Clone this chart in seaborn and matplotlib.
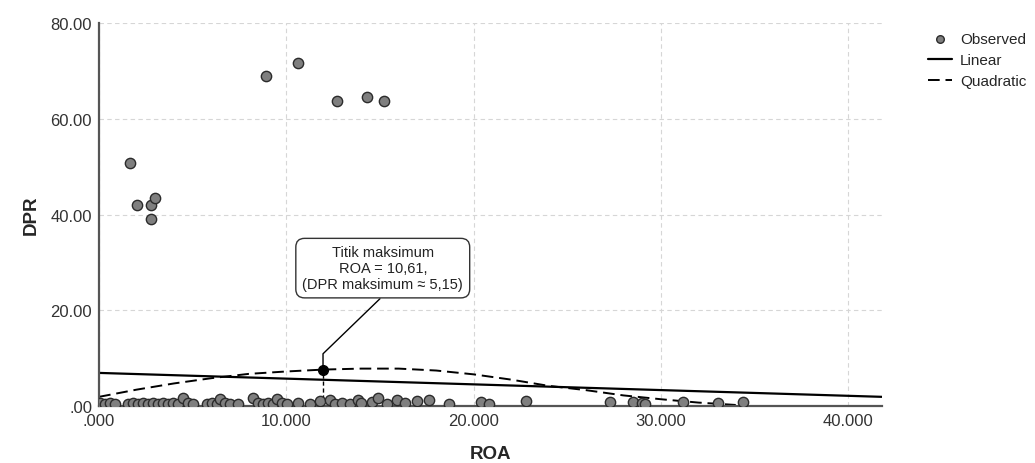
import matplotlib
matplotlib.use("Agg")
import matplotlib.pyplot as plt
import seaborn as sns
import pandas as pd

sns.set_style("whitegrid")
plt.rcParams['font.family'] = ['Liberation Sans', 'DejaVu Sans']

# --- Data ---
obs_roa = [1.65, 2.0, 2.76, 3.0, 2.8, 8.9, 10.6, 12.7, 14.3, 15.2,
           0.05, 0.32, 0.59, 0.85, 1.57, 1.83, 2.1, 2.37, 2.63, 2.9,
           3.17, 3.43, 3.7, 3.97, 4.23, 4.5, 4.77, 5.03, 5.75, 6.02,
           6.28, 6.46, 6.73, 6.99, 7.44, 8.24, 8.5, 8.77, 9.04, 9.31,
           9.49, 9.75, 10.02, 10.64, 11.27, 11.8, 12.33, 12.6, 12.96, 13.4,
           13.84, 14.0, 14.56, 14.91, 15.36, 15.89, 16.34, 17.0, 17.6, 18.7,
           20.4, 20.8, 22.8, 27.3, 28.5, 29.0, 29.15, 31.2, 33.07, 34.4]
obs_dpr = [50.7, 41.9, 41.9, 43.4, 39.0, 68.9, 71.6, 63.8, 64.5, 63.7,
           0.6, 0.5, 0.6, 0.5, 0.5, 0.6, 0.5, 0.6, 0.5, 0.6,
           0.5, 0.6, 0.5, 0.6, 0.5, 1.6, 0.6, 0.5, 0.4, 0.6,
           0.5, 1.5, 0.6, 0.5, 0.5, 1.6, 0.6, 0.5, 0.6, 0.5,
           1.4, 0.6, 0.5, 0.6, 0.5, 1.1, 1.3, 0.5, 0.6, 0.5,
           1.2, 0.6, 0.8, 1.7, 0.5, 1.3, 0.6, 1.0, 1.2, 0.4,
           0.8, 0.3, 1.1, 0.8, 0.8, 0.6, 0.4, 0.8, 0.6, 0.8]

lin_roa = [0.0, 41.8]
lin_dpr = [6.9, 1.9]

quad_roa = [0, 2, 4, 6, 8, 10, 12, 14, 16, 18, 20, 22, 24, 26, 28, 30, 32, 34]
quad_dpr = [1.9, 3.4, 4.7, 5.8, 6.7, 7.2, 7.6, 7.8, 7.8, 7.4, 6.6, 5.5, 4.2, 3.3, 2.2, 1.4, 0.7, 0.2]

peak_roa, peak_dpr = 11.96, 7.6
note_text = "Titik maksimum\nROA = 10,61,\n(DPR maksimum ≈ 5,15)"

x_ticks = [0, 10, 20, 30, 40]
x_labels = [".000", "10.000", "20.000", "30.000", "40.000"]
y_ticks = [0, 20, 40, 60, 80]
y_labels = [".00", "20.00", "40.00", "60.00", "80.00"]

obs_df = pd.DataFrame({"ROA": obs_roa, "DPR": obs_dpr})

fig, ax = plt.subplots(figsize=(10.35, 4.64), dpi=100)
fig.subplots_adjust(left=0.0957, right=0.852, top=0.948, bottom=0.123)

sns.scatterplot(data=obs_df, x="ROA", y="DPR", ax=ax, s=55, color="#7f7f7f",
                edgecolor="#2b2b2b", linewidth=1.0, label="Observed", zorder=3)
sns.lineplot(x=lin_roa, y=lin_dpr, ax=ax, color="black", linewidth=1.6,
             label="Linear", zorder=2)
sns.lineplot(x=quad_roa, y=quad_dpr, ax=ax, color="black", linewidth=1.4,
             linestyle=(0, (6, 3)), label="Quadratic", zorder=2)

# maximum point and its callout
ax.plot([peak_roa, peak_roa], [0, peak_dpr], color="black", lw=1.0, ls=(0, (3, 2)), zorder=2)
ax.plot([peak_roa], [peak_dpr], marker="o", color="black", ms=7, zorder=4)
ax.plot([peak_roa, peak_roa, 15.0], [peak_dpr, 10.9, 22.4], color="black", lw=1.0, zorder=2)
ax.text(15.15, 28.8, note_text, ha="center", va="center", fontsize=10.5, color="#222222",
        linespacing=1.2,
        bbox=dict(boxstyle="round,pad=0.45,rounding_size=0.6", fc="white", ec="#333333", lw=1.0),
        zorder=5)

ax.set_xlim(0, 41.8)
ax.set_ylim(0, 80)
ax.set_xticks(x_ticks)
ax.set_xticklabels(x_labels)
ax.set_yticks(y_ticks)
ax.set_yticklabels(y_labels)
ax.tick_params(axis="both", labelsize=12, colors="#333333", length=3, width=1.2,
               direction="out", pad=2)

ax.set_xlabel("ROA", fontsize=13.5, fontweight="bold", labelpad=12)
ax.set_ylabel("DPR", fontsize=13.5, fontweight="bold", labelpad=8)

ax.grid(True, color="#d6d6d6", linestyle=(0, (4, 3)), linewidth=0.8)
ax.set_facecolor("white")
for side in ["top", "right"]:
    ax.spines[side].set_visible(False)
for side in ["left", "bottom"]:
    ax.spines[side].set_color("#555555")
    ax.spines[side].set_linewidth(1.6)

leg = ax.legend(loc="upper left", bbox_to_anchor=(1.047, 1.0), frameon=False,
                fontsize=11, handlelength=1.6, handletextpad=0.5, borderaxespad=0.2,
                labelspacing=0.45)
leg.legend_handles[0].set_sizes([30])

fig.savefig("out.png", dpi=100)
